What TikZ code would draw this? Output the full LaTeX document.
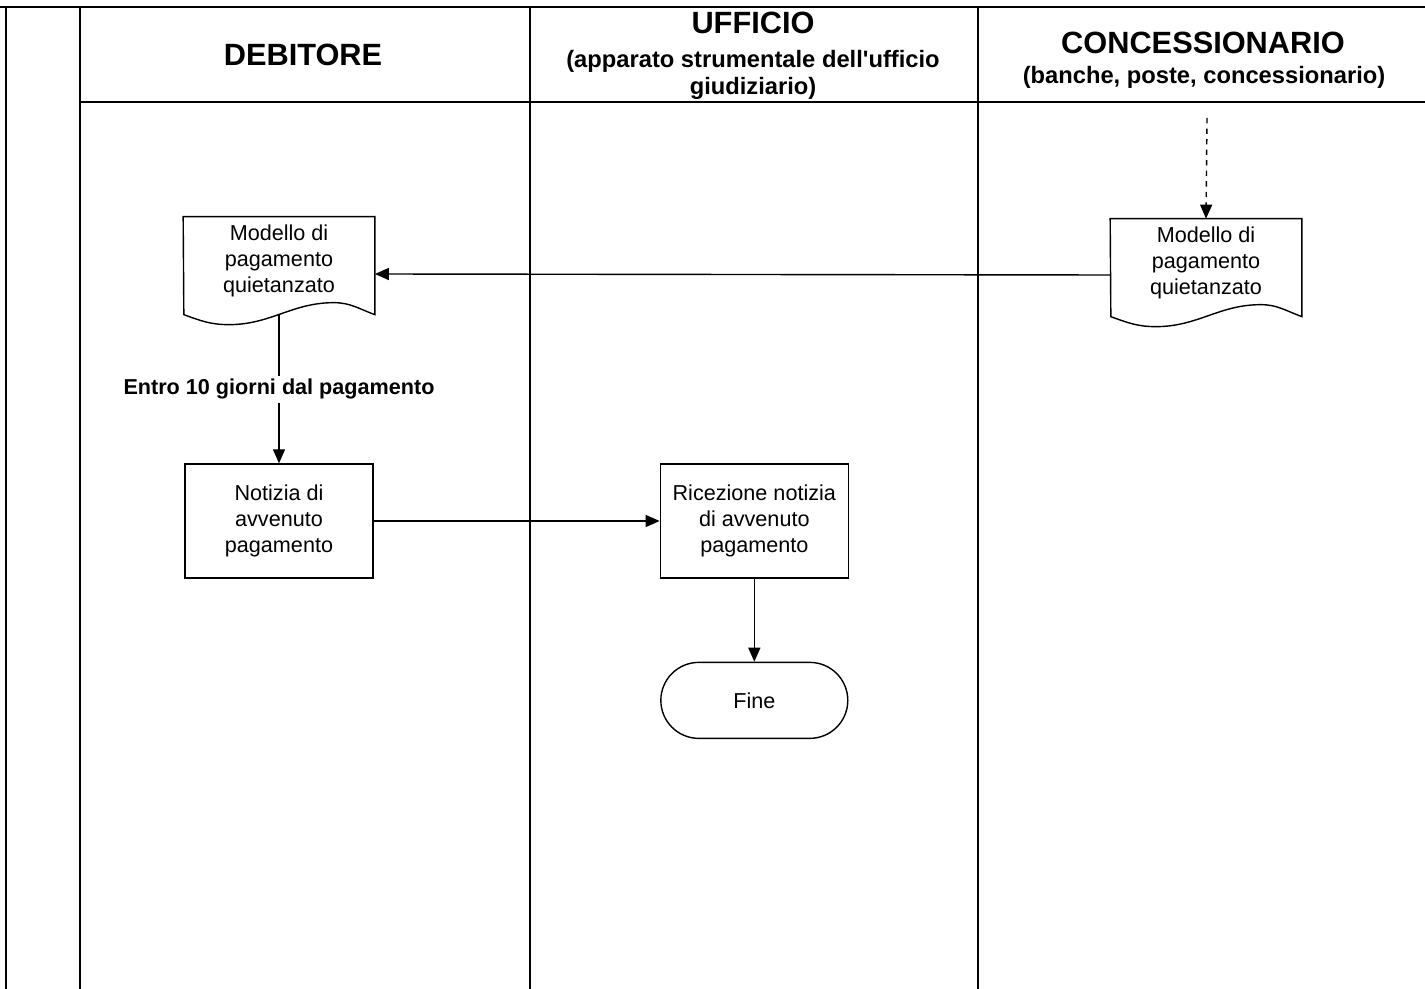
\documentclass[tikz,border=0pt]{standalone}
\usepackage{fontspec}
\setmainfont{Liberation Sans}
\usetikzlibrary{positioning,arrows.meta}
\tikzset{proc node/.style={rectangle,draw,line width=0.8pt,minimum width=3.76cm,minimum height=2.28cm,align=center,inner sep=0pt,font=\fontsize{12.3}{14.6}\selectfont},
doc node/.style={rectangle,minimum width=3.82cm,minimum height=1.76cm,align=center,inner sep=0pt,font=\fontsize{12.3}{14.6}\selectfont},
end node/.style={rectangle,draw,line width=0.8pt,rounded corners=0.76cm,minimum width=3.74cm,minimum height=1.52cm,font=\fontsize{12.3}{14.6}\selectfont},
head node/.style={font=\bfseries\fontsize{17.5}{21}\selectfont},
sub node/.style={align=center,font=\bfseries\fontsize{13.5}{15.2}\selectfont},
flow/.style={line width=0.8pt,-{Triangle[length=0.28cm,width=0.24cm]}}}

\begin{document}
\begin{tikzpicture}[x=0.02cm,y=-0.02cm]
            \useasboundingbox (0,0) rectangle (1425,989);
            % lanes
            \draw[line width=1.6pt] (0,7) -- (1425,7);
            \foreach \lx in {6,80,530,978}
                \draw[line width=1pt] (\lx,7) -- (\lx,989);
            \draw[line width=1pt] (80,102) -- (1425,102);

            \node[head node] (hdeb) at (303,55) {DEBITORE};
            \node[head node] (huff) at (753,23) {UFFICIO};
            \node[sub node] (suff) at (753,75) {(apparato strumentale dell\textquotesingle{}ufficio\\giudiziario)};
            \node[head node] (hconc) at (1203,43) {CONCESSIONARIO};
            \node[sub node] (sconc) at (1204,77) {(banche, poste, concessionario)};

            % nodes
            \node[doc node] (docdeb) at (279,261) {Modello di\\pagamento\\quietanzato};
            \node[doc node] (docconc) at (1206,263) {Modello di\\pagamento\\quietanzato};
            \node[proc node] (notizia) [below=3.16cm of docdeb] {Notizia di\\avvenuto\\pagamento};
            \node[proc node] (ricez) [right=5.72cm of notizia] {Ricezione notizia\\di avvenuto\\pagamento};
            \node[end node] (fine) [below=1.66cm of ricez] {Fine};
            \coordinate (conctop) at (1207,118);

            \foreach \d in {docdeb,docconc}
                \draw[line width=0.8pt] (\d.north west) -- (\d.north east) -- ++(0,98)
                    to[out=160,in=0] ++(-41,-12) to[out=180,in=0] ++(-105,22)
                    to[out=180,in=-20] ++(-45,-10) -- cycle;

            % connectors
            \draw[flow,dashed] (conctop) -- (docconc.north);
            \draw[flow] ([yshift=-0.24cm]docconc.west) -- ([yshift=-0.26cm]docdeb.east);
            \draw[flow] ([yshift=-0.2cm]docdeb.south) -- (notizia.north)
                node[midway,fill=white,inner sep=2pt,font=\bfseries\fontsize{12.3}{14.6}\selectfont] {Entro 10 giorni dal pagamento};
            \draw[flow] (notizia) -- (ricez);
            \draw[flow] (ricez) -- (fine);
        \end{tikzpicture}
\end{document}
